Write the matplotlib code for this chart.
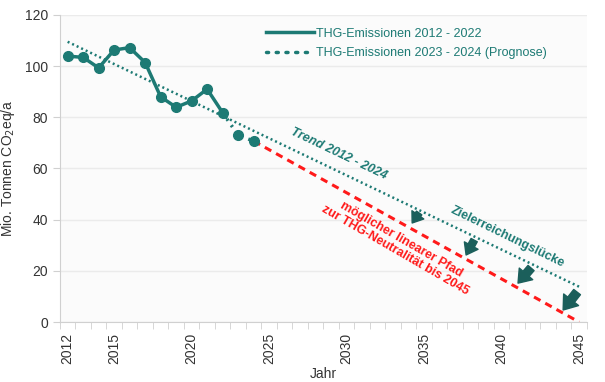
import numpy as np
import matplotlib.pyplot as plt
from matplotlib.lines import Line2D

plt.rcParams['font.family'] = ['Liberation Sans', 'DejaVu Sans']

# emissions 2012-2022 (measured) and 2023-2024 (forecast)
years = [2012, 2013, 2014, 2015, 2016, 2017, 2018, 2019, 2020, 2021, 2022]
emis = [103.9, 103.4, 99.3, 106.3, 107.2, 101.4, 88.0, 83.9, 86.4, 91.0, 81.8]
prog_years = [2022, 2023, 2024]
prog_emis = [81.8, 73.0, 70.7]

# trend 2012 - 2024, extended to 2045
trend_years = [2012, 2045]
trend_vals = [109.5, 13.8]

# linear path to neutrality
path_years = [2024, 2045]
path_vals = [70.7, 0.0]

# gap arrows (tail -> tip)
arrow_tail_x = [2034.68, 2038.23, 2041.9, 2044.87]
arrow_tail_y = [42.6, 32.0, 21.1, 11.7]
arrow_tip_x = [2034.23, 2037.71, 2041.06, 2043.97]
arrow_tip_y = [38.7, 26.2, 15.2, 4.7]
arrow_size = [13, 14, 16, 17]

teal = '#1d7a74'
dark = '#1b5f5b'
red = '#ff1a1a'

fig = plt.figure(figsize=(6.05, 3.82), dpi=100)
ax = fig.add_axes([0.099, 0.157, 0.871, 0.804])
ax.set_facecolor('#fbfbfb')

ax.plot(years, emis, color=teal, lw=2.5, marker='o', ms=7, zorder=4)
ax.plot(prog_years, prog_emis, color=teal, lw=2.5, ls=(0, (0.6, 1.6)), zorder=4)
ax.plot(prog_years[1:], prog_emis[1:], ls='none', marker='o', ms=7, color=teal, zorder=4)
ax.plot(trend_years, trend_vals, color=teal, lw=1.8, ls=(0, (0.8, 1.2)), zorder=3)
ax.plot(path_years, path_vals, color=red, lw=2.2, ls=(0, (2.4, 1.8)), zorder=3)

for tx, ty, hx, hy, s in zip(arrow_tail_x, arrow_tail_y, arrow_tip_x, arrow_tip_y, arrow_size):
    ax.annotate('', xy=(hx, hy), xytext=(tx, ty),
                arrowprops=dict(arrowstyle='simple,head_length=0.55,head_width=0.8,tail_width=0.36',
                                color=dark, mutation_scale=s, shrinkA=0, shrinkB=0),
                zorder=5)

ax.text(2029.5, 65.5, 'Trend 2012 - 2024', color=teal, fontsize=9, fontweight='bold',
        fontstyle='italic', rotation=-25.5, ha='center', va='center', rotation_mode='anchor')
ax.text(2040.4, 33.2, 'Zielerreichungslücke', color=teal, fontsize=9, fontweight='bold',
        rotation=-26, ha='center', va='center', rotation_mode='anchor')
ax.text(2033.3, 30.0, 'möglicher linearer Pfad\nzur THG-Neutralität bis 2045', color=red,
        fontsize=9, fontweight='bold', rotation=-30, ha='center', va='center',
        rotation_mode='anchor', linespacing=1.0)

ax.set_xlim(2011.5, 2045.5)
ax.set_ylim(0, 120)
ax.set_yticks(np.arange(0, 121, 20))
ax.set_xticks([2012, 2015, 2020, 2025, 2030, 2035, 2040, 2045])
ax.set_xticks(np.arange(2011.5, 2046, 1), minor=True)
ax.tick_params(axis='x', which='major', length=0, rotation=90, labelsize=10, pad=8, colors='#333333')
ax.tick_params(axis='x', which='minor', length=5, color='#d0d0d0')
ax.tick_params(axis='y', length=5, color='#d0d0d0', labelsize=10, colors='#333333')
ax.grid(axis='y', color='#ebebeb', lw=1)
ax.set_axisbelow(True)
for s in ['top', 'right']:
    ax.spines[s].set_visible(False)
for s in ['left', 'bottom']:
    ax.spines[s].set_color('#d0d0d0')

ax.set_xlabel('Jahr', fontsize=10, color='#333333', labelpad=2)
ax.set_ylabel('Mio. Tonnen CO$_2$eq/a', fontsize=10, color='#333333', labelpad=6)

handles = [Line2D([], [], color=teal, lw=2.5),
           Line2D([], [], color=teal, lw=2.5, ls=(0, (0.6, 2.2)), dash_capstyle='round')]
labels = ['THG-Emissionen 2012 - 2022', 'THG-Emissionen 2023 - 2024 (Prognose)']
leg = ax.legend(handles, labels, loc='upper left', bbox_to_anchor=(0.37, 0.995), frameon=False,
                fontsize=9, handlelength=3.8, handletextpad=0.2, labelspacing=0.6)
for t in leg.get_texts():
    t.set_color(teal)

fig.savefig('out.png', dpi=100)
